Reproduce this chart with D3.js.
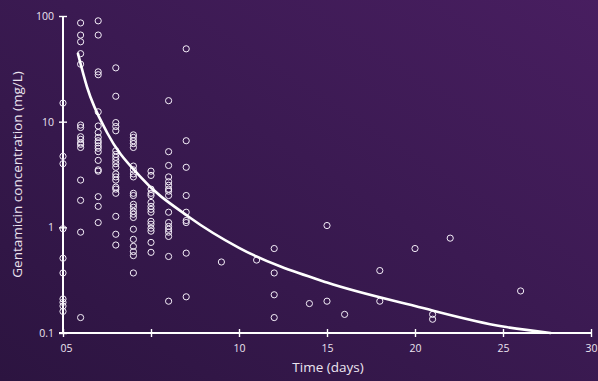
<!DOCTYPE html>
<html><head><meta charset="utf-8">
<script src="https://cdn.jsdelivr.net/npm/d3@7"></script>
<style>
html,body{margin:0;padding:0;background:#3a1850;}
svg{display:block;}
text{font-family:"Open Sans","Noto Sans",sans-serif;fill:#ece4f0;}
</style></head>
<body>
<svg id="chart" width="598" height="381"></svg>
<script>
// Observed concentrations (mg/L) by time (days)
const obsTime = [
 0,0,0,0,0,0,0,0,0,0,
 1,1,1,1,1,1,1,1,1,1,1,1,1,1,1,1,
 2,2,2,2,2,2,2,2,2,2,2,2,2,2,2,2,2,2,2,
 3,3,3,3,3,3,3,3,3,3,3,3,3,3,3,3,3,3,3,3,
 4,4,4,4,4,4,4,4,4,4,4,4,4,4,4,4,4,4,4,4,4,4,
 5,5,5,5,5,5,5,5,5,5,5,5,5,5,5,
 6,6,6,6,6,6,6,6,6,6,6,6,6,6,6,6,6,
 7,7,7,7,7,7,7,7,7,
 9,11,12,12,12,12,14,15,15,16,18,18,20,21,21,22,26
];
const obsConc = [
 15,4.7,4.0,0.97,0.51,0.37,0.21,0.195,0.18,0.16,
 86,66,57,44,35,9.3,8.8,7.2,6.8,6.3,6.1,5.7,2.8,1.8,0.9,0.14,
 90,66,29.6,27.8,12.4,9.1,7.9,7.1,6.6,6.3,5.9,5.6,5.2,4.3,3.5,3.4,1.95,1.58,1.11,
 32.3,17.4,9.8,9.0,8.2,5.3,4.9,4.6,4.3,4.0,3.7,3.2,3.0,2.8,2.4,2.3,2.1,1.27,0.86,0.68,
 7.5,7.1,6.6,6.2,5.7,3.8,3.5,3.2,3.0,2.1,2.0,1.65,1.55,1.42,1.33,1.24,0.96,0.77,0.66,0.59,0.54,0.37,
 3.4,3.1,2.3,2.1,2.0,1.72,1.58,1.48,1.39,1.14,1.07,0.98,0.92,0.72,0.58,
 15.8,5.2,3.85,3.0,2.7,2.5,2.3,2.2,2.0,1.39,1.11,1.02,0.96,0.90,0.82,0.53,0.20,
 48.9,6.6,3.7,2.0,1.39,1.16,1.11,0.57,0.22,
 0.47,0.49,0.63,0.37,0.23,0.14,0.19,1.04,0.20,0.15,0.39,0.20,0.63,0.15,0.135,0.79,0.25
];
// Fitted population curve
const fitTime = [0.85,1.36,2.5,4.375,7.2,10,15,20,25,27.7];
const fitConc = [44,21.4,7.9,3.03,1.24,0.64,0.30,0.18,0.115,0.1];
// Axis ticks
const xTicks = [0,5,10,15,20,25,30];
const xTickLabels = ["05","","10","15","20","25","30"];
const yTicks = [0.1,1,10,100];
const yTickLabels = ["0.1","1","10","100"];

const svg = d3.select("#chart");
const W = 598, H = 381;

const defs = svg.append("defs");
const grad = defs.append("linearGradient").attr("id","bg")
  .attr("x1","0").attr("y1","1").attr("x2","1").attr("y2","0");
grad.append("stop").attr("offset","0%").attr("stop-color","#2c1440");
grad.append("stop").attr("offset","55%").attr("stop-color","#3b1a52");
grad.append("stop").attr("offset","100%").attr("stop-color","#481e60");
svg.append("rect").attr("width",W).attr("height",H).attr("fill","url(#bg)");

const x = d3.scaleLinear().domain([0,30]).range([63,591]);
const y = d3.scaleLog().domain([0.1,100]).range([333,16]);

const axisColor = "#ffffff";

// X axis
const gx = svg.append("g").attr("transform",`translate(0,${y(0.1)})`)
  .call(d3.axisBottom(x).tickValues(xTicks).tickSize(0).tickFormat((d,i)=>xTickLabels[i]));
gx.select(".domain").attr("stroke",axisColor).attr("stroke-width",2)
  .attr("d",`M${x(0)-4},0H${x(30)+1}`);
gx.selectAll(".tick line").attr("stroke",axisColor).attr("stroke-width",1.4)
  .attr("y1",-4).attr("y2",4);
gx.selectAll(".tick text").attr("y",12).attr("dy","0.71em").attr("font-size",10.5)
  .attr("dx",(d)=>d===0?3:0).attr("fill","#ece4f0");

// Y axis
const gy = svg.append("g").attr("transform",`translate(${x(0)},0)`)
  .call(d3.axisLeft(y).tickValues(yTicks).tickSize(0).tickFormat((d,i)=>yTickLabels[i]));
gy.select(".domain").attr("stroke",axisColor).attr("stroke-width",2)
  .attr("d",`M0,${y(0.1)+1}V${y(100)}`);
gy.selectAll(".tick line").attr("stroke",axisColor).attr("stroke-width",1.4)
  .attr("x1",-4).attr("x2",4);
gy.selectAll(".tick text").attr("x",-9).attr("font-size",10.5).attr("fill","#ece4f0");

// Points
const pts = obsTime.map((t,i)=>({t, c: obsConc[i]}));
svg.append("g").selectAll("circle").data(pts).join("circle")
  .attr("cx",d=>x(d.t)).attr("cy",d=>y(d.c)).attr("r",3.1)
  .attr("fill","none").attr("stroke","#f4eef8").attr("stroke-width",1);

// Fit curve
const fit = fitTime.map((t,i)=>({t, c: fitConc[i]}));
svg.append("path").datum(fit)
  .attr("d", d3.line().x(d=>x(d.t)).y(d=>y(d.c)).curve(d3.curveMonotoneX))
  .attr("fill","none").attr("stroke","#ffffff").attr("stroke-width",2.6)
  .attr("stroke-linecap","round");

// Axis titles
svg.append("text").attr("x",(x(0)+x(30))/2+1).attr("y",372)
  .attr("text-anchor","middle").attr("font-size",13.5).text("Time (days)");
svg.append("text").attr("transform",`translate(22,${(y(0.1)+y(100))/2}) rotate(-90)`)
  .attr("text-anchor","middle").attr("font-size",13.5).text("Gentamicin concentration (mg/L)");
</script>
</body></html>
